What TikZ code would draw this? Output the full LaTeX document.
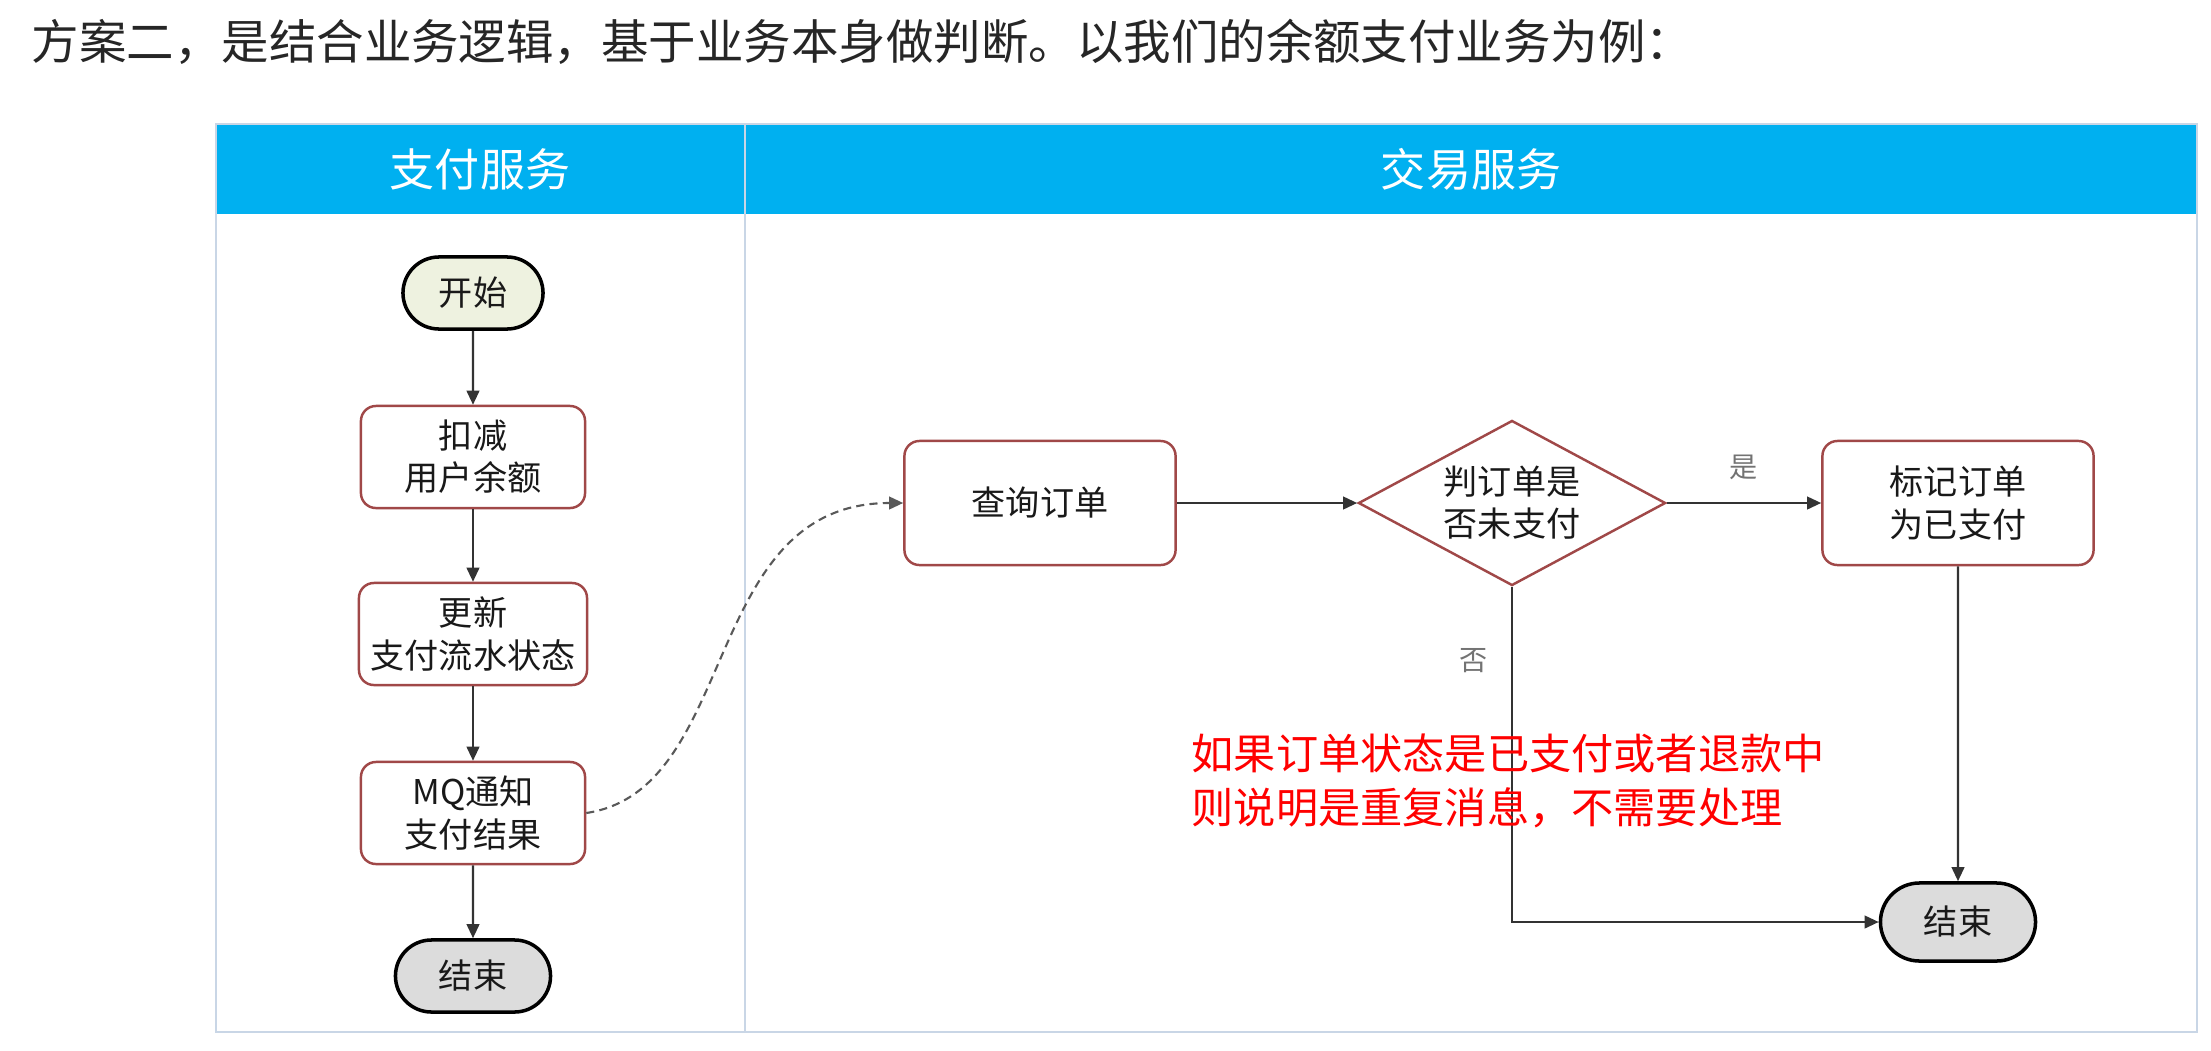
\documentclass[tikz,border=0pt]{standalone}
\usepackage{fontspec}
\setmainfont{Noto Sans CJK SC}
\usetikzlibrary{shapes.geometric,shapes.misc,arrows.meta,positioning}
\definecolor{laneblue}{HTML}{00B0F0}
\definecolor{laneline}{HTML}{C9D6E6}
\definecolor{boxred}{HTML}{A04848}
\definecolor{startfill}{HTML}{EEF2E0}
\definecolor{endfill}{HTML}{DCDCDC}

\begin{document}
\begin{tikzpicture}[
    x=0.01cm, y=-0.01cm,
    lane/.style={text=white, font=\fontsize{12.8}{15}\selectfont},
    terminal/.style={rounded rectangle, draw=black, line width=1pt, minimum width=1.4cm, minimum height=0.72cm, inner sep=0, text=black!90, font=\fontsize{9.7}{12}\selectfont},
    process/.style={rectangle, rounded corners=0.15cm, draw=boxred, line width=0.7pt, fill=white, minimum width=2.24cm, minimum height=1.02cm, align=center, text=black!90, font=\fontsize{9.7}{12}\selectfont},
    decision/.style={diamond, aspect=1.86, draw=boxred, line width=0.7pt, fill=white, minimum width=3.07cm, minimum height=1.65cm, inner sep=0, align=center, text=black!90, font=\fontsize{9.7}{12}\selectfont},
    flow/.style={-{Triangle[length=4pt,width=3.6pt]}, line width=0.6pt, black!80},
    branch/.style={text=black!55, font=\fontsize{8}{10}\selectfont}
]
    \useasboundingbox (0,0) rectangle (2211,1051);

    % Title
    \node[anchor=west, inner sep=0, text=black!85, font=\fontsize{13.5}{16}\selectfont] (title) at (31,42) {方案二，是结合业务逻辑，基于业务本身做判断。以我们的余额支付业务为例：};

    % Swimlanes
    \fill[laneblue] (216,124) rectangle (2197,214);
    \draw[laneline, line width=0.6pt] (216,124) rectangle (2197,1032);
    \draw[laneline, line width=0.6pt] (745,124) -- (745,1032);
    \node[lane] (paylane) at (480,169) {支付服务};
    \node[lane] (tradelane) at (1471,169) {交易服务};

    % Payment service
    \node[terminal, fill=startfill] (start1) at (473,293) {开始};
    \node[process] (deduct) at (473,457) {扣减\\用户余额};
    \node[process] (update) at (473,634) {更新\\支付流水状态};
    \node[process] (notify) at (473,813) {MQ通知\\支付结果};
    \node[terminal, fill=endfill, minimum width=1.55cm] (end1) at (473,976) {结束};

    % Trade service
    \node[process, minimum width=2.71cm, minimum height=1.24cm] (query) at (1040,503) {查询订单};
    \node[decision] (check) at (1512,503) {判订单是\\否未支付};
    \node[process, minimum width=2.71cm, minimum height=1.24cm] (mark) at (1958,503) {标记订单\\为已支付};
    \node[terminal, fill=endfill, minimum width=1.55cm, minimum height=0.78cm] (end2) at (1958,922) {结束};

    % Connections
    \draw[flow] (start1) -- (deduct);
    \draw[flow] (deduct) -- (update);
    \draw[flow] (update) -- (notify);
    \draw[flow] (notify) -- (end1);
    \draw[flow, black!65, dash pattern=on 2.3pt off 1.5pt] (notify.east) .. controls (740,790) and (700,503) .. (query.west);
    \draw[flow] (query) -- (check);
    \draw[flow] (check) -- node[branch, above=0.1cm] (yes) {是} (mark);
    \draw[flow] (check.south) |- node[branch, pos=0.11, left=0.12cm] (no) {否} (end2.west);
    \draw[flow] (mark) -- (end2);

    % Note
    \node[anchor=west, align=left, inner sep=0, text=red, font=\fontsize{12}{15.4}\selectfont] (note) at (1191,781) {如果订单状态是已支付或者退款中\\则说明是重复消息，不需要处理};
\end{tikzpicture}
\end{document}
